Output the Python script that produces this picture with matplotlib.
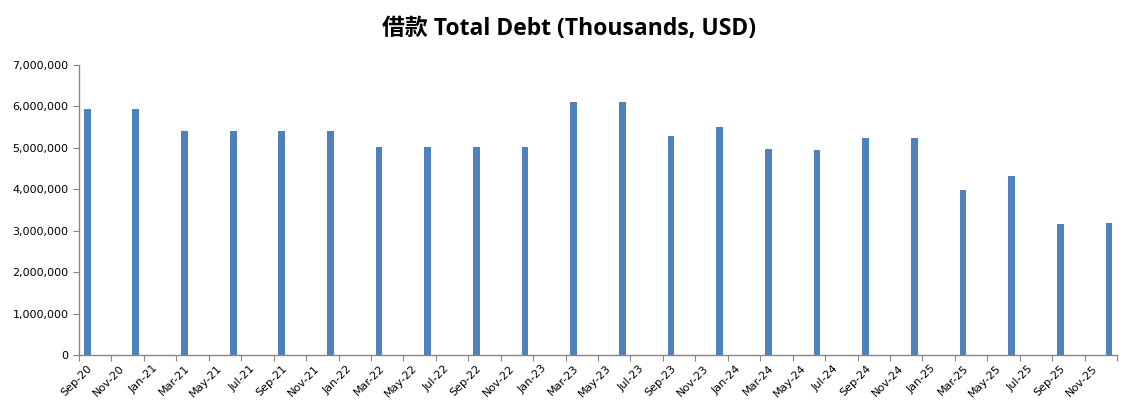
import numpy as np
import matplotlib
matplotlib.use('Agg')
import matplotlib.pyplot as plt
from matplotlib.ticker import FuncFormatter

# quarterly reporting dates and total debt (thousands USD)
dates = ['2020-09', '2020-12', '2021-03', '2021-06', '2021-09', '2021-12',
         '2022-03', '2022-06', '2022-09', '2022-12', '2023-03', '2023-06',
         '2023-09', '2023-12', '2024-03', '2024-06', '2024-09', '2024-12',
         '2025-03', '2025-06', '2025-09', '2025-12']
debt = [5940000, 5940000, 5410000, 5410000, 5410000, 5410000,
        5020000, 5020000, 5020000, 5020000, 6110000, 6110000,
        5290000, 5500000, 4970000, 4950000, 5240000, 5240000,
        3980000, 4320000, 3160000, 3190000]

start = (2020, 9)
end = (2025, 12)
month_names = ['Jan', 'Feb', 'Mar', 'Apr', 'May', 'Jun',
               'Jul', 'Aug', 'Sep', 'Oct', 'Nov', 'Dec']

def month_index(s):
    y, m = map(int, s.split('-'))
    return (y - start[0]) * 12 + (m - start[1])

n_months = (end[0] - start[0]) * 12 + (end[1] - start[1]) + 1
x = np.array([month_index(d) for d in dates])

BAR = '#4F81BD'
AX = '#868686'

fig = plt.figure(figsize=(11.39, 4.09), dpi=100)
ax = fig.add_axes([0.0694, 0.132, 0.9113, 0.709])
ax.bar(x, debt, width=0.42, color=BAR, zorder=2)

ax.set_xlim(-0.5, n_months - 0.5)
ax.set_ylim(0, 7000000)
ax.set_yticks(np.arange(0, 7000001, 1000000))
ax.yaxis.set_major_formatter(FuncFormatter(lambda v, p: f'{int(v):,}'))

# ticks at boundaries every two months, labels centred on the month
ax.set_xticks(np.arange(-0.5, n_months, 2))
ax.set_xticklabels([])
lab_pos = np.arange(0, n_months, 2)
labels = []
for i in lab_pos:
    mm = (start[1] - 1 + i) % 12
    yy = start[0] + (start[1] - 1 + i) // 12
    labels.append(f'{month_names[mm]}-{str(yy)[2:]}')
ax.set_xticks(lab_pos, minor=True)
ax.set_xticklabels(labels, minor=True, rotation=45, ha='right', va='top',
                   rotation_mode='anchor', fontsize=8)
ax.tick_params(axis='x', which='minor', length=0, pad=6)
ax.tick_params(axis='x', which='major', length=4, color=AX, direction='out')
ax.tick_params(axis='y', length=4, color=AX, direction='out', labelsize=8)

for s in ['top', 'right']:
    ax.spines[s].set_visible(False)
for s in ['left', 'bottom']:
    ax.spines[s].set_color(AX)
    ax.spines[s].set_linewidth(1.0)

fig.text(0.5, 0.93, '借款 Total Debt (Thousands, USD)', ha='center', va='center',
         fontsize=16.5, fontweight='bold',
         family=['Open Sans', 'Noto Sans CJK SC', 'DejaVu Sans'])

fig.savefig('out.png', dpi=100)
